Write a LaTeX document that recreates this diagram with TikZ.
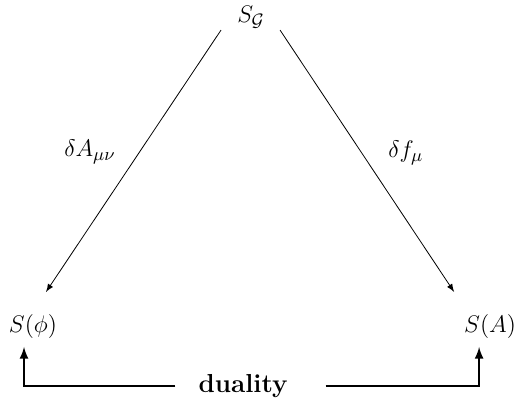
\documentclass[tikz,border=0pt]{standalone}
\usepackage{amsmath,amssymb}
\usepackage{tikz}
\usetikzlibrary{arrows}

\begin{document}
\begin{tikzpicture}[>=latex, every node/.style={font=\fontsize{13}{16}\selectfont}]
\useasboundingbox (0,0) rectangle (9.10,7.08);

% Actions
\node (SG) at (4.41, 6.78) {$S_{\mathcal{G}}$};
\node (Sphi) at (0.58, 1.336) {$S(\phi)$};
\node (SA) at (8.61, 1.336) {$S(A)$};

% Variations
\draw[->] ([shift={(-15pt,-6.5pt)}]SG.center) -- ([shift={(6.5pt,17.5pt)}]Sphi.center);
\draw[->] ([shift={(14.5pt,-6.5pt)}]SG.center) -- ([shift={(-18pt,17.5pt)}]SA.center);
\node (dA) at (1.58, 4.41) {$\delta A_{\mu\nu}$};
\node (df) at (7.13, 4.39) {$\delta f_{\mu}$};

% Duality
\node[font=\fontsize{13}{16}\selectfont\bfseries] (dual) at (4.27, 0.30) {duality};
\draw[line width=1pt, ->] ([xshift=-8pt]dual.west) -| ([shift={(-4.5pt,-10pt)}]Sphi.center);
\draw[line width=1pt, ->] ([xshift=15.5pt]dual.east) -| ([shift={(-5.5pt,-10pt)}]SA.center);

\end{tikzpicture}
\end{document}
